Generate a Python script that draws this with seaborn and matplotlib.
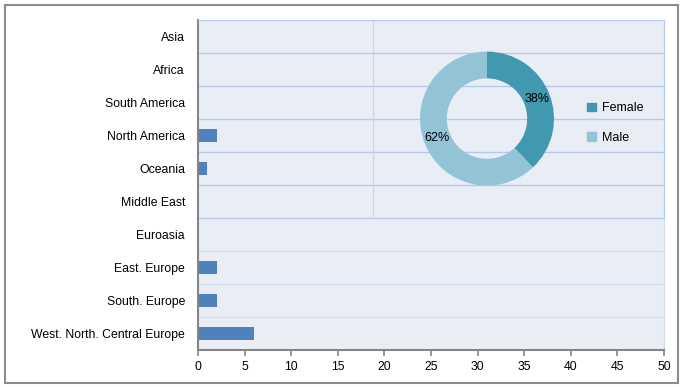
import pandas as pd
import matplotlib.pyplot as plt
import matplotlib.patches as mpatches
import seaborn as sns
import numpy as np

# Data
regions = ['Asia', 'Africa', 'South America', 'North America', 'Oceania',
           'Middle East', 'Euroasia', 'East. Europe', 'South. Europe',
           'West. North. Central Europe']
counts = [0, 0, 0, 2, 1, 0, 0, 2, 2, 6]
genders = ['Female', 'Male']
gender_share = [38, 62]
x_ticks = list(range(0, 55, 5))

plt.rcParams['font.family'] = ['Liberation Sans', 'DejaVu Sans']
plt.rcParams['font.size'] = 8.8

W, H = 682, 387
bar_color = '#4F81BD'
bg_color = '#E9EDF5'
grid_strong = '#B7C9E8'
grid_faint = '#D6DEEE'
pie_colors = ['#4298AF', '#93C4D5']

df = pd.DataFrame({'region': regions, 'count': counts})


def fig_box(x0, y0, x1, y1):
    # pixel box (top-left origin) -> figure fraction rect
    return [x0 / W, 1 - y1 / H, (x1 - x0) / W, (y1 - y0) / H]


fig = plt.figure(figsize=(W / 100, H / 100), dpi=100)
fig.patch.set_facecolor('white')

# Main bar chart
ax = fig.add_axes(fig_box(198, 20, 664, 350))
ax.set_facecolor(bg_color)
sns.barplot(data=df, x='count', y='region', orient='h', color=bar_color,
            width=0.4, saturation=1, ax=ax)
ax.set_xlim(0, 50)
ax.set_xticks(x_ticks)
ax.set_xlabel('')
ax.set_ylabel('')
ax.tick_params(axis='y', length=0, pad=9.4)
ax.tick_params(axis='x', length=4, width=1.2, color='#868686', pad=4)

# category boundary lines
n = len(regions)
for i in range(n - 1):
    ax.axhline(i + 0.5, color=grid_strong if i < 6 else grid_faint, lw=1, zorder=0)

for side in ['left', 'bottom']:
    ax.spines[side].set_color('#868686')
    ax.spines[side].set_linewidth(1.5)
ax.spines['top'].set_color(grid_strong)
ax.spines['right'].set_color(grid_faint)

# Inset chart area (donut)
inset = fig.add_axes(fig_box(373, 20, 664, 218))
inset.patch.set_alpha(0)
inset.set_xticks([])
inset.set_yticks([])
inset.spines['bottom'].set_visible(False)
inset.spines['left'].set_color('#CAD5EC')
inset.spines['top'].set_color(grid_strong)
inset.spines['right'].set_color(grid_strong)

cx, cy, r = 487, 118.6, 67
donut_ax = fig.add_axes(fig_box(cx - r, cy - r, cx + r, cy + r))
wedges, texts, autotexts = donut_ax.pie(
    gender_share, colors=pie_colors, startangle=90, counterclock=False,
    radius=1, autopct='%1.0f%%', pctdistance=0.8,
    wedgeprops=dict(width=0.4, linewidth=0),
    textprops=dict(fontsize=9, color='black'))
donut_ax.set_xlim(-1, 1)
donut_ax.set_ylim(-1, 1)
donut_ax.set_aspect('equal')
donut_ax.axis('off')

handles = [mpatches.Patch(color=c, label=g) for g, c in zip(genders, pie_colors)]
fig.legend(handles=handles, loc='center left', frameon=False,
           bbox_to_anchor=(576 / W, 1 - 123 / H), handlelength=0.7,
           handleheight=0.7, handletextpad=0.5, labelspacing=1.4, fontsize=9)

# outer chart border
fig.patches.append(mpatches.Rectangle((5 / W, 4 / H), 673 / W, 378 / H,
                                      transform=fig.transFigure, fill=False,
                                      edgecolor='#8C8C8C', linewidth=1.5))

fig.savefig('out.png', dpi=100)
